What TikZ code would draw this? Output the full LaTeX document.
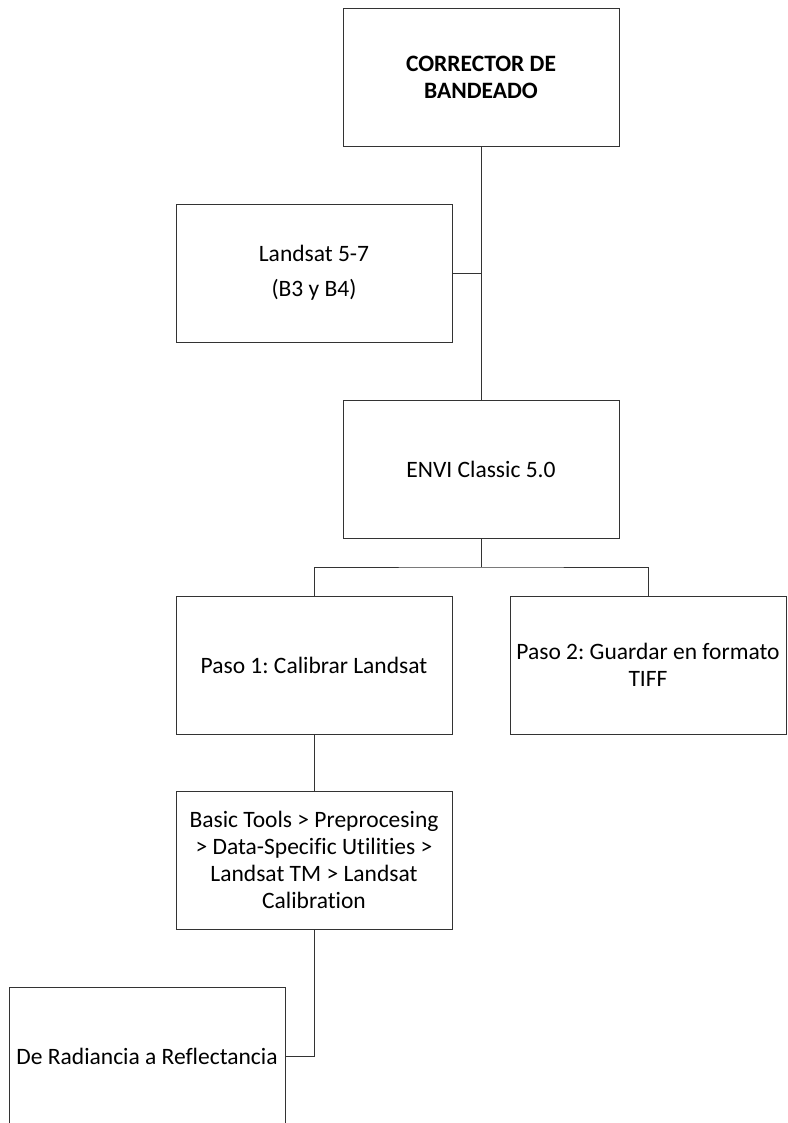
\documentclass[tikz,border=0pt]{standalone}
\usepackage{fontspec}
\setmainfont[Ligatures=NoCommon]{Carlito}
\frenchspacing
\begin{document}
\begin{tikzpicture}[x=1pt,y=-1pt,
  box/.style={draw=black!80, line width=0.9pt, rectangle, minimum width=276pt, minimum height=138pt, inner sep=0pt, align=center, font=\fontsize{23.5}{27}\selectfont},
  link/.style={draw=black!80, line width=0.9pt}]
\useasboundingbox (0,0) rectangle (787,1123);
\node[box] (b1) at (481,77) {\textbf{CORRECTOR DE}\\\textbf{BANDEADO}};
\node[box, font=\fontsize{23.5}{35}\selectfont] (b2) at (314,273) {Landsat 5-7\\(B3 y B4)};
\node[box] (b3) at (481,469) {ENVI Classic 5.0};
\node[box] (p1) at (314,665) {Paso 1: Calibrar Landsat};
\node[box] (p2) at (648,665) {Paso 2: Guardar en formato\\TIFF};
\node[box] (bt) at (314,860) {Basic Tools > Preprocesing\\> Data-Specific Utilities >\\Landsat TM > Landsat\\Calibration};
\node[box] (dr) at (147,1056) {De Radiancia a Reflectancia};
\coordinate (bus) at (481,567);
\draw[link] (b1.south) -- (b3.north);
\draw[link] (b2.east) -- (b1.south |- b2.east);
\draw[link] (b3.south) -- (bus);
\draw[link] (p1.north) |- (bus) -| (p2.north);
\draw[link] (p1.south) -- (bt.north);
\draw[link] (bt.south) |- (dr.east);
\end{tikzpicture}
\end{document}
